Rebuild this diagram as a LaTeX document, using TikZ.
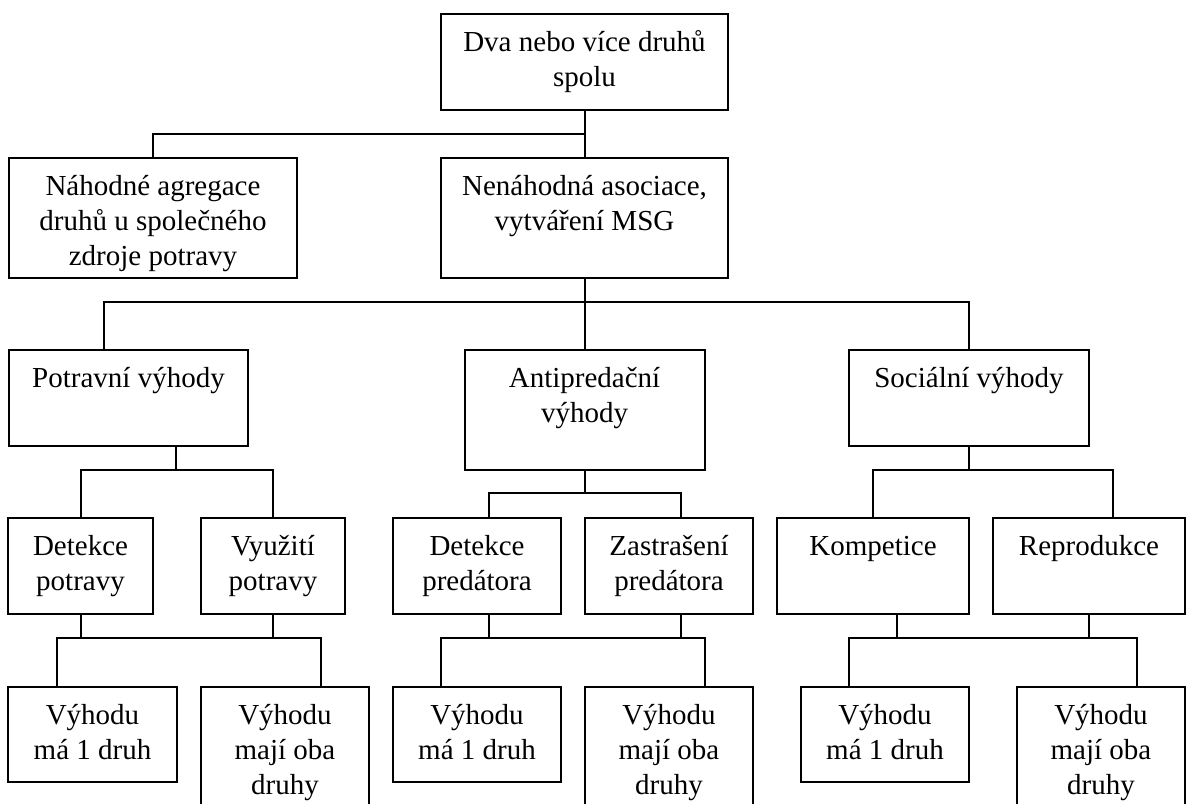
\documentclass[tikz,border=0pt]{standalone}
\usepackage{fontspec}
\setmainfont{Liberation Serif}
\tikzset{
  box/.style={draw, line width=1pt, inner sep=0pt},
  txt/.style={anchor=north, yshift=-6.8pt, align=center, inner sep=0pt, font=\fontsize{14.5}{17.5}\selectfont},
  conn/.style={line width=1pt},
}
\begin{document}
\begin{tikzpicture}[x=0.5pt, y=-0.5pt]
  \useasboundingbox (0,0) rectangle (1187,803);

  % upper levels
  \node[box, minimum width=143.5pt, minimum height=48pt, label={[txt]north:{\strut Dva nebo více druhů\\spolu}}] (dva) at (584.5,62) {};
  \node[box, minimum width=144pt, minimum height=60pt, label={[txt]north:{\strut Náhodné agregace\\druhů u společného\\zdroje potravy}}] (nahodne) at (153,218) {};
  \node[box, minimum width=143.5pt, minimum height=60pt, label={[txt]north:{\strut Nenáhodná asociace,\\vytváření MSG}}] (nenahodna) at (584.5,218) {};

  \node[box, minimum width=119.5pt, minimum height=48pt, label={[txt]north:{\strut Potravní výhody}}] (potravni) at (128.5,398) {};
  \node[box, minimum width=120pt, minimum height=60pt, label={[txt]north:{\strut Antipredační\\výhody}}] (antipred) at (584.5,410) {};
  \node[box, minimum width=120pt, minimum height=48pt, label={[txt]north:{\strut Sociální výhody}}] (socialni) at (969,398) {};

  % third level
  \node[box, minimum width=72.5pt, minimum height=48pt, label={[txt]north:{\strut Detekce\\potravy}}] (detpot) at (80.5,566) {};
  \node[box, minimum width=72pt, minimum height=48pt, label={[txt]north:{\strut Využití\\potravy}}] (vyuzpot) at (273,566) {};
  \node[box, minimum width=84pt, minimum height=48pt, label={[txt]north:{\strut Detekce\\predátora}}] (detpred) at (477,566) {};
  \node[box, minimum width=84pt, minimum height=48pt, label={[txt]north:{\strut Zastrašení\\predátora}}] (zastr) at (669,566) {};
  \node[box, minimum width=96pt, minimum height=48pt, label={[txt]north:{\strut Kompetice}}] (kompet) at (873,566) {};
  \node[box, minimum width=96pt, minimum height=48pt, label={[txt]north:{\strut Reprodukce}}] (reprod) at (1089,566) {};

  % bottom level
  \node[box, minimum width=84.5pt, minimum height=47.5pt, label={[txt]north:{\strut Výhodu\\má 1 druh}}] (v1a) at (92.5,734.5) {};
  \node[box, minimum width=84pt, minimum height=65pt, label={[txt]north:{\strut Výhodu\\mají oba\\druhy}}] (v2a) at (285,752) {};
  \node[box, minimum width=84pt, minimum height=47.5pt, label={[txt]north:{\strut Výhodu\\má 1 druh}}] (v1b) at (477,734.5) {};
  \node[box, minimum width=84pt, minimum height=65pt, label={[txt]north:{\strut Výhodu\\mají oba\\druhy}}] (v2b) at (669,752) {};
  \node[box, minimum width=84pt, minimum height=47.5pt, label={[txt]north:{\strut Výhodu\\má 1 druh}}] (v1c) at (885,734.5) {};
  \node[box, minimum width=84pt, minimum height=65pt, label={[txt]north:{\strut Výhodu\\mají oba\\druhy}}] (v2c) at (1101,752) {};

  % buses
  \coordinate (bus1) at (0,134);
  \coordinate (bus2) at (0,302);
  \coordinate (bus3a) at (0,470);
  \coordinate (bus3b) at (0,493);
  \coordinate (bus4) at (0,638);

  \draw[conn] (dva.south) -- (nenahodna.north);
  \draw[conn] (nahodne.north) |- (dva.south |- bus1);

  \coordinate (potIn) at (104,350);
  \draw[conn] (nenahodna.south) -- (antipred.north);
  \draw[conn] (potIn) |- (socialni.north |- bus2) -- (socialni.north);

  % Potravni
  \coordinate (potOut) at (176,446);
  \draw[conn] (potOut) -- (potOut |- bus3a);
  \draw[conn] (detpot.north) |- (vyuzpot.north |- bus3a) -- (vyuzpot.north);
  \coordinate (v1aIn) at (57,687);
  \coordinate (v2aIn) at (321,687);
  \draw[conn] (detpot.south) -- (detpot.south |- bus4);
  \draw[conn] (vyuzpot.south) -- (vyuzpot.south |- bus4);
  \draw[conn] (v1aIn) |- (v2aIn |- bus4) -- (v2aIn);

  % Antipredacni
  \coordinate (detpredIn) at (489,518);
  \coordinate (zastrIn) at (681,518);
  \draw[conn] (antipred.south) -- (antipred.south |- bus3b);
  \draw[conn] (detpredIn) |- (zastrIn |- bus3b) -- (zastrIn);
  \coordinate (detpredOut) at (489,614);
  \coordinate (zastrOut) at (681,614);
  \draw[conn] (detpredOut) -- (detpredOut |- bus4);
  \draw[conn] (zastrOut) -- (zastrOut |- bus4);
  \coordinate (v1bIn) at (441,687);
  \coordinate (v2bIn) at (705,687);
  \draw[conn] (v1bIn) |- (v2bIn |- bus4) -- (v2bIn);

  % Socialni
  \coordinate (reprodIn) at (1113,518);
  \draw[conn] (socialni.south) -- (socialni.south |- bus3a);
  \draw[conn] (kompet.north) |- (reprodIn |- bus3a) -- (reprodIn);
  \coordinate (kompetOut) at (897,614);
  \draw[conn] (kompetOut) -- (kompetOut |- bus4);
  \draw[conn] (reprod.south) -- (reprod.south |- bus4);
  \coordinate (v1cIn) at (849,687);
  \coordinate (v2cIn) at (1137,687);
  \draw[conn] (v1cIn) |- (v2cIn |- bus4) -- (v2cIn);
\end{tikzpicture}
\end{document}
